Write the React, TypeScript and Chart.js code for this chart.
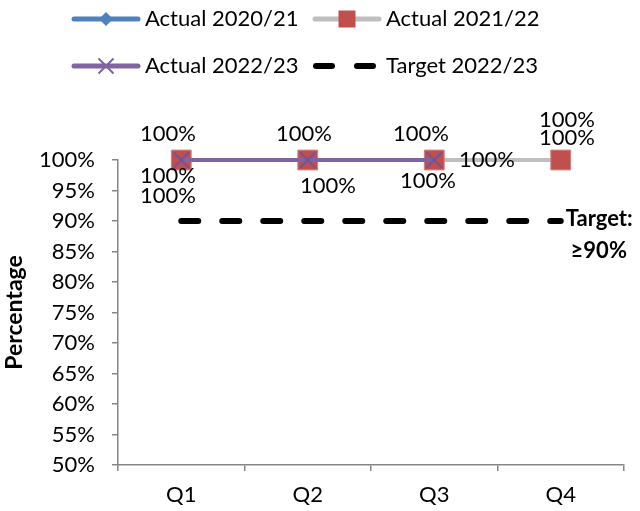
import React, { useEffect, useRef } from "react";
import { Chart, registerables } from "chart.js";

Chart.register(...registerables);

const quarters = ["Q1", "Q2", "Q3", "Q4"];
const actual2020_21 = [100, 100, 100, 100];
const actual2021_22 = [100, 100, 100, 100];
const actual2022_23 = [100, 100, 100, null];
const target2022_23 = [90, 90, 90, 90];
const targetLabel = ["Target:", "\u226590%"];
const yMin = 50;
const yMax = 100;
const yStep = 5;

const FONT = "Lato, 'Open Sans', sans-serif";
const FS = 22;
const BLUE = "#4F81BD";
const GREY = "#BFBFBF";
const RED = "#C0504D";
const PURPLE = "#8064A2";

// per-point label offsets (px) so stacked labels do not collide
const labelOffsets: Record<string, [number, number][]> = {
  "Actual 2020/21": [[-13, 16], [20, 26], [53, 0], [6, -40]],
  "Actual 2021/22": [[-13, -26], [-4, -26], [-13, -26], [6, -22]],
  "Actual 2022/23": [[-13, 36], [20, 26], [-6, 21], [0, 0]],
};

const valueLabels = {
  id: "valueLabels",
  afterDatasetsDraw(chart: any) {
    const ctx = chart.ctx;
    ctx.save();
    ctx.font = `${FS}px ${FONT}`;
    ctx.fillStyle = "#000";
    ctx.textAlign = "center";
    ctx.textBaseline = "middle";
    const drawn = new Set<string>();
    chart.data.datasets.forEach((ds: any, i: number) => {
      const offs = labelOffsets[ds.label];
      if (!offs) return;
      const meta = chart.getDatasetMeta(i);
      meta.data.forEach((pt: any, j: number) => {
        const v = ds.data[j];
        if (v == null) return;
        const [dx, dy] = offs[j];
        const x = Math.round(pt.x + dx);
        const y = Math.round(pt.y + dy);
        const key = `${x},${y},${v}`;
        if (drawn.has(key)) return; // coincident labels are drawn once
        drawn.add(key);
        ctx.fillText(`${v}%`, x, y);
      });
    });
    // target annotation next to the last target point
    const ti = chart.data.datasets.findIndex((d: any) => d.label === "Target 2022/23");
    const tMeta = chart.getDatasetMeta(ti);
    const last = tMeta.data[tMeta.data.length - 1];
    ctx.font = `bold ${FS}px ${FONT}`;
    ctx.textAlign = "left";
    ctx.fillText(targetLabel[0], last.x + 5, last.y - 2);
    ctx.textAlign = "center";
    ctx.fillText(targetLabel[1], last.x + 38, last.y + 30);
    ctx.restore();
  },
};

// two-row legend drawn above the plot
const legendRows = {
  id: "legendRows",
  afterDraw(chart: any) {
    const ctx = chart.ctx;
    const items = [
      { label: "Actual 2020/21", x: 72, y: 19, color: BLUE, marker: "diamond" },
      { label: "Actual 2021/22", x: 313, y: 19, color: GREY, marker: "square" },
      { label: "Actual 2022/23", x: 72, y: 66, color: PURPLE, marker: "cross" },
      { label: "Target 2022/23", x: 313, y: 66, color: "#000", marker: "dash" },
    ];
    ctx.save();
    items.forEach((it) => {
      const x0 = it.x;
      const x1 = it.x + 68;
      const cx = (x0 + x1) / 2;
      ctx.lineCap = "round";
      ctx.strokeStyle = it.color;
      ctx.lineWidth = 5;
      if (it.marker === "dash") {
        ctx.lineWidth = 6;
        ctx.beginPath();
        ctx.moveTo(x0 + 3, it.y);
        ctx.lineTo(x0 + 19, it.y);
        ctx.moveTo(x0 + 44, it.y);
        ctx.lineTo(x0 + 60, it.y);
        ctx.stroke();
      } else {
        ctx.beginPath();
        ctx.moveTo(x0 + 2, it.y);
        ctx.lineTo(x1 - 2, it.y);
        ctx.stroke();
      }
      if (it.marker === "diamond") {
        ctx.fillStyle = BLUE;
        ctx.beginPath();
        ctx.moveTo(cx, it.y - 7);
        ctx.lineTo(cx + 7, it.y);
        ctx.lineTo(cx, it.y + 7);
        ctx.lineTo(cx - 7, it.y);
        ctx.closePath();
        ctx.fill();
      } else if (it.marker === "square") {
        ctx.fillStyle = RED;
        ctx.fillRect(cx - 8.5, it.y - 8.5, 17, 17);
      } else if (it.marker === "cross") {
        ctx.lineWidth = 2;
        ctx.lineCap = "butt";
        ctx.beginPath();
        ctx.moveTo(cx - 7.5, it.y - 7.5);
        ctx.lineTo(cx + 7.5, it.y + 7.5);
        ctx.moveTo(cx + 7.5, it.y - 7.5);
        ctx.lineTo(cx - 7.5, it.y + 7.5);
        ctx.stroke();
      }
      ctx.fillStyle = "#000";
      ctx.font = `${FS}px ${FONT}`;
      ctx.textAlign = "left";
      ctx.textBaseline = "middle";
      ctx.fillText(it.label, x1 + 5, it.y);
    });
    ctx.restore();
  },
};

export default function App() {
  const ref = useRef<HTMLCanvasElement | null>(null);

  useEffect(() => {
    if (!ref.current) return;
    const chart = new Chart(ref.current, {
      type: "line",
      data: {
        labels: quarters,
        datasets: [
          {
            label: "Actual 2020/21",
            data: actual2020_21,
            borderColor: BLUE,
            backgroundColor: BLUE,
            borderWidth: 4,
            pointStyle: "rectRot",
            pointRadius: 7,
            pointBorderWidth: 0,
            clip: false,
            order: 3,
          },
          {
            label: "Actual 2021/22",
            data: actual2021_22,
            borderColor: GREY,
            backgroundColor: RED,
            pointBorderColor: "#D07F7D",
            pointBorderWidth: 1,
            borderWidth: 4,
            pointStyle: "rect",
            pointRadius: 14,
            clip: false,
            order: 2,
          },
          {
            label: "Actual 2022/23",
            data: actual2022_23,
            borderColor: PURPLE,
            backgroundColor: PURPLE,
            pointBorderColor: "#6F55A0",
            borderWidth: 4,
            pointStyle: "crossRot",
            pointRadius: 11,
            pointBorderWidth: 2,
            clip: false,
            order: 1,
          },
          {
            label: "Target 2022/23",
            data: target2022_23,
            borderColor: "#000",
            borderWidth: 6,
            borderDash: [17, 24],
            borderCapStyle: "round",
            pointRadius: 0,
            clip: false,
            order: 4,
          },
        ],
      },
      options: {
        animation: false,
        responsive: false,
        maintainAspectRatio: false,
        layout: { padding: { top: 160, right: 16, left: 0, bottom: 0 } },
        plugins: { legend: { display: false }, tooltip: { enabled: false } },
        scales: {
          x: {
            offset: true,
            afterFit: (s: any) => {
              s.height = 46;
            },
            grid: {
              offset: true,
              drawOnChartArea: false,
              drawTicks: true,
              tickLength: 6,
              color: "#868686",
              lineWidth: 1.5,
            },
            border: { color: "#868686", width: 1.5 },
            ticks: { color: "#000", padding: 11, font: { family: FONT, size: FS } },
          },
          y: {
            min: yMin,
            max: yMax,
            afterFit: (s: any) => {
              s.width = 118;
            },
            ticks: {
              stepSize: yStep,
              color: "#000",
              padding: 17,
              font: { family: FONT, size: FS },
              callback: (v: any) => `${v}%`,
            },
            grid: {
              drawOnChartArea: false,
              drawTicks: true,
              tickLength: 6,
              color: "#868686",
              lineWidth: 1.5,
            },
            border: { color: "#868686", width: 1.5 },
            title: {
              display: true,
              text: "Percentage",
              color: "#000",
              padding: { top: 1, bottom: 0 },
              font: { family: FONT, size: 23, weight: "bold" },
            },
          },
        },
      },
      plugins: [valueLabels, legendRows],
    });
    return () => chart.destroy();
  }, []);

  return (
    <div style={{ position: "fixed", left: 0, top: 0, width: 640, height: 511, background: "#fff" }}>
      <canvas ref={ref} width={640} height={511} style={{ display: "block" }} />
    </div>
  );
}
